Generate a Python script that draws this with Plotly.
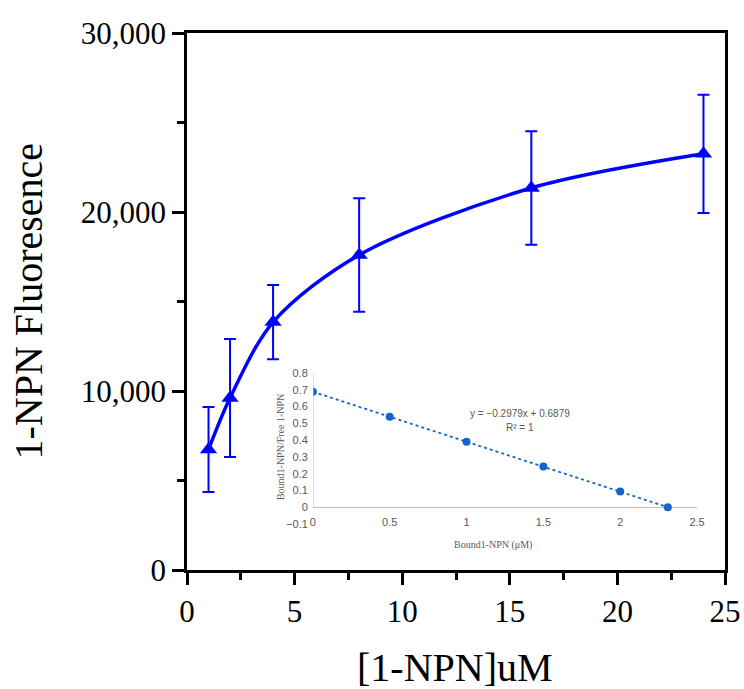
import plotly.graph_objects as go

# main binding curve: 1-NPN concentration vs fluorescence
conc = [1, 2, 4, 8, 16, 24]
fluor = [6730, 9610, 13850, 17600, 21340, 23250]
fluor_sd = [2370, 3300, 2070, 3170, 3170, 3300]

# inset: Scatchard-type plot
bound = [0, 0.5, 1.0, 1.5, 2.0, 2.31]
ratio = [0.688, 0.539, 0.390, 0.242, 0.094, 0.0]

blue = "#0000FF"
inset_blue = "#1466C6"
grey_txt = "#595959"
serif = "Liberation Serif, Times New Roman, serif"
sans = "Liberation Sans, Arial, sans-serif"

fig = go.Figure()

fig.add_trace(go.Scatter(
    x=conc, y=fluor, mode="lines+markers",
    line=dict(color=blue, width=3.5, shape="spline", smoothing=0.9),
    marker=dict(symbol="triangle-up", size=15, color=blue),
    error_y=dict(type="data", array=fluor_sd, color=blue, thickness=2, width=6),
    xaxis="x", yaxis="y", showlegend=False,
))

fig.add_trace(go.Scatter(
    x=bound, y=ratio, mode="lines+markers",
    line=dict(color=inset_blue, width=1.8, dash="dot"),
    marker=dict(size=8, color=inset_blue),
    xaxis="x2", yaxis="y2", showlegend=False,
))


def note(text, x, y, size, family, color, angle=0):
    return dict(text=text, xref="paper", yref="paper", x=x, y=y,
                xanchor="center", yanchor="middle", textangle=angle,
                showarrow=False, font=dict(family=family, size=size, color=color))


fig.update_layout(
    width=744, height=689,
    margin=dict(l=187, r=19, t=33, b=119),
    paper_bgcolor="white", plot_bgcolor="white",
    xaxis=dict(
        domain=[0, 1], range=[0, 25], dtick=5, tick0=0, automargin=False,
        showline=True, linecolor="black", linewidth=2.5, mirror=True,
        ticks="outside", ticklen=12, tickwidth=2.5, tickcolor="black",
        minor=dict(dtick=2.5, ticks="outside", ticklen=7, tickwidth=2.5, tickcolor="black"),
        showgrid=False, zeroline=False,
        tickfont=dict(family=serif, size=31, color="black"),
    ),
    yaxis=dict(
        domain=[0, 1], range=[0, 30000], dtick=10000, tick0=0, tickformat=",",
        automargin=False,
        showline=True, linecolor="black", linewidth=2.5, mirror=True,
        ticks="outside", ticklen=12, tickwidth=2.5, tickcolor="black",
        minor=dict(dtick=5000, ticks="outside", ticklen=7, tickwidth=2.5, tickcolor="black"),
        showgrid=False, zeroline=False,
        tickfont=dict(family=serif, size=31, color="black"),
    ),
    xaxis2=dict(
        domain=[0.234, 0.948], range=[0, 2.5], dtick=0.5, automargin=False,
        anchor="free", position=0.105,
        showline=False, showgrid=False, zeroline=False, ticks="",
        tickfont=dict(family=sans, size=11, color=grey_txt),
    ),
    yaxis2=dict(
        domain=[0.0857, 0.3669], range=[-0.1, 0.8], dtick=0.1, anchor="x2",
        automargin=False, ticklabelstandoff=4,
        showline=False, showgrid=False, ticks="",
        zeroline=True, zerolinecolor="#BFBFBF", zerolinewidth=1.2,
        tickfont=dict(family=sans, size=11, color=grey_txt),
    ),
    shapes=[dict(type="line", xref="x2", yref="y2", x0=0, x1=0, y0=0, y1=0.8,
                 line=dict(color="#BFBFBF", width=1.2))],
    annotations=[
        note("1-NPN Fluoresence", -0.2955, 0.5, 40, serif, "black", -90),
        note("[1-NPN]uM", 0.498, -0.182, 40, serif, "black"),
        note("y = −0.2979x + 0.6879", 0.619, 0.292, 10, sans, grey_txt),
        note("R² = 1", 0.619, 0.266, 10, sans, grey_txt),
        note("Bound1-NPN (μM)", 0.569, 0.0466, 10, serif, grey_txt),
        note("Bound1-NPN/Free 1-NPN", 0.173, 0.229, 10, serif, grey_txt, -90),
    ],
)

# the default page adds an 8px body margin; drop it so the figure sits at the corner
fig.write_html("out.html", config={"displayModeBar": False},
               post_script="document.body.style.margin='0';")
